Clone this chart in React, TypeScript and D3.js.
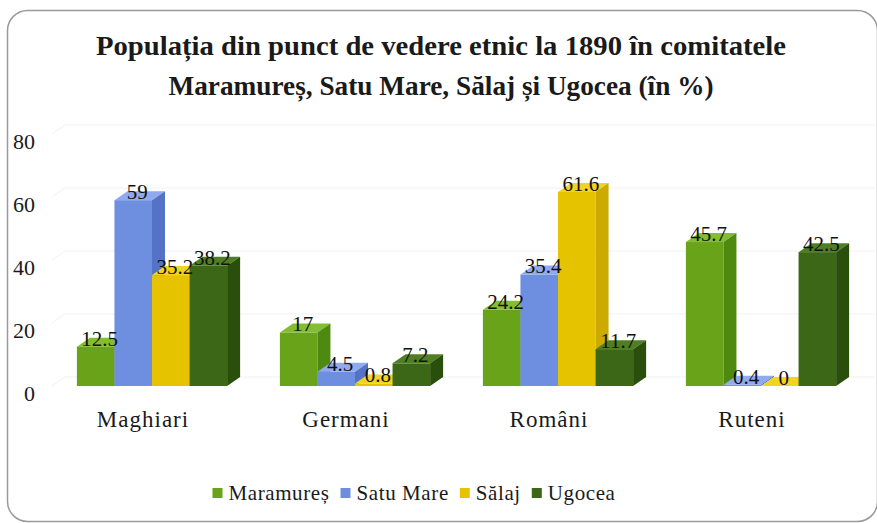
import React from 'react'
import * as d3 from 'd3'

// Population by ethnicity, 1890 (%)
const categories = ['Maghiari', 'Germani', 'Români', 'Ruteni']
const seriesNames = ['Maramureș', 'Satu Mare', 'Sălaj', 'Ugocea']
const maramures = [12.5, 17, 24.2, 45.7]
const satuMare = [59, 4.5, 35.4, 0.4]
const salaj = [35.2, 0.8, 61.6, 0]
const ugocea = [38.2, 7.2, 11.7, 42.5]
const yTicks = [0, 20, 40, 60, 80]
const titleLines = [
  'Populația din punct de vedere etnic la 1890 în comitatele',
  'Maramureș, Satu Mare, Sălaj și Ugocea (în %)',
]

const seriesValues = [maramures, satuMare, salaj, ugocea]

const palette = [
  { front: '#68a31a', top: '#84bd30', side: '#4f8a10' },
  { front: '#6e8fe0', top: '#91aaee', side: '#5473c6' },
  { front: '#e6c300', top: '#f2d420', side: '#cdaa00' },
  { front: '#3b6716', top: '#4f7e24', side: '#2a4f0c' },
]

const W = 877
const H = 523
const FONT = "'Liberation Serif', 'DejaVu Serif', serif"
const DX = 13
const DY = 9

let ctx: CanvasRenderingContext2D | null = null
function measure(text: string, font: string, spacing = 0) {
  if (!ctx) ctx = document.createElement('canvas').getContext('2d')
  if (!ctx) return text.length * 10
  ctx.font = font
  return ctx.measureText(text).width + spacing * text.length
}

export default function App() {
  const x0 = d3
    .scaleBand<string>()
    .domain(categories)
    .range([50.5, 862.5])
    .paddingInner(0.26)
    .paddingOuter(0.13)

  const x1 = d3
    .scaleBand<string>()
    .domain(seriesNames)
    .range([0, x0.bandwidth()])
    .padding(0)

  const y = d3.scaleLinear().domain([0, 80]).range([386, 134])

  const bw = x1.bandwidth()

  // legend layout
  const legendFont = `21px ${FONT}`
  const sq = 10
  const gapIn = 6
  const gapOut = 11
  const itemWidths = seriesNames.map(
    (s) => sq + gapIn + measure(s, legendFont, 0.6)
  )
  const legendTotal = d3.sum(itemWidths) + gapOut * (seriesNames.length - 1)
  const legendStart = 414 - legendTotal / 2
  const legendX = itemWidths.map(
    (_, i) => legendStart + d3.sum(itemWidths.slice(0, i)) + gapOut * i
  )

  const txt = { fontFamily: FONT }

  return (
    <svg
      width={W}
      height={H}
      style={{ position: 'absolute', left: 0, top: 0, background: '#fff', fontFamily: FONT }}
    >
      <rect
        x={7.5}
        y={10.5}
        width={870}
        height={511}
        rx={20}
        fill="#fff"
        stroke="#9a9a9a"
        strokeWidth={1.5}
      />

      {/* title */}
      {titleLines.map((t, i) => (
        <text
          key={t}
          x={441}
          y={55 + i * 40}
          textAnchor="middle"
          fontSize={28}
          fontWeight="bold"
          fill="#1a1a1a"
          style={txt}
          textLength={i === 0 ? 690 : 545}
          lengthAdjust="spacingAndGlyphs"
        >
          {t}
        </text>
      ))}

      {/* faint walls gridlines */}
      {yTicks.map((t) => (
        <g key={t} stroke="#f1f1f1" strokeWidth={1}>
          <line x1={52} y1={y(t)} x2={52 + DX} y2={y(t) - DY} />
          <line x1={52 + DX} y1={y(t) - DY} x2={862 + DX} y2={y(t) - DY} />
        </g>
      ))}

      {/* y tick labels */}
      {yTicks.map((t) => (
        <text
          key={t}
          x={35}
          y={y(t) + 15}
          textAnchor="end"
          fontSize={22}
          fill="#1a1a1a"
          style={txt}
        >
          {t}
        </text>
      ))}

      {/* bars */}
      {categories.map((c, ci) => (
        <g key={c}>
          {seriesNames.map((s, si) => {
            const v = seriesValues[si][ci]
            const xl = (x0(c) || 0) + (x1(s) || 0)
            const xr = xl + bw
            const yt = y(v)
            const yb = y(0)
            const col = palette[si]
            return (
              <g key={s}>
                <rect x={xl} y={yt} width={bw} height={yb - yt} fill={col.front} />
                <path
                  d={`M${xl},${yt}L${xl + DX},${yt - DY}L${xr + DX},${yt - DY}L${xr},${yt}Z`}
                  fill={col.top}
                />
                <path
                  d={`M${xr},${yt}L${xr + DX},${yt - DY}L${xr + DX},${yb - DY}L${xr},${yb}Z`}
                  fill={col.side}
                />
              </g>
            )
          })}
        </g>
      ))}

      {/* value labels */}
      {categories.map((c, ci) =>
        seriesNames.map((s, si) => {
          const v = seriesValues[si][ci]
          const cx = (x0(c) || 0) + (x1(s) || 0) + bw / 2 + 4
          return (
            <text
              key={c + s}
              x={cx}
              y={y(v) - 1}
              textAnchor="middle"
              fontSize={21}
              fill="#111"
              style={txt}
            >
              {v}
            </text>
          )
        })
      )}

      {/* category labels */}
      {categories.map((c) => (
        <text
          key={c}
          x={(x0(c) || 0) + x0.bandwidth() / 2 - 9}
          y={427}
          textAnchor="middle"
          fontSize={23}
          letterSpacing={1}
          fill="#1a1a1a"
          style={txt}
        >
          {c}
        </text>
      ))}

      {/* legend */}
      {seriesNames.map((s, i) => (
        <g key={s} transform={`translate(${legendX[i]},0)`}>
          <rect x={0} y={488} width={sq} height={sq} fill={palette[i].front} />
          <text
            x={sq + gapIn}
            y={500}
            fontSize={21}
            letterSpacing={0.6}
            fill="#1a1a1a"
            style={txt}
          >
            {s}
          </text>
        </g>
      ))}
    </svg>
  )
}
